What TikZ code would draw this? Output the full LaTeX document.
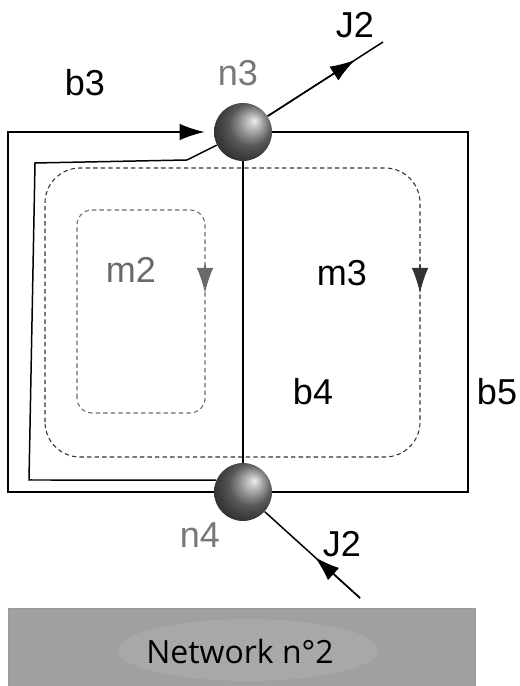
\documentclass[tikz,border=0pt]{standalone}
\usepackage{fontspec}
\setmainfont{Liberation Sans}
\newfontfamily\netfont{Open Sans}
\usetikzlibrary{arrows.meta,calc}
\definecolor{labelGray}{HTML}{787878}
\definecolor{meshGray}{HTML}{6a6a6a}
\definecolor{netGray}{HTML}{a0a0a0}
\definecolor{netLight}{HTML}{a8a8a8}

\begin{document}
\begin{tikzpicture}[
    wire/.style={line width=0.85pt},
    meshline/.style={line width=0.6pt, dash pattern=on 2.5pt off 1.8pt},
    sphere/.style={circle, minimum size=1.16cm, inner sep=0pt, shading=ball, ball color=black!50, shading angle=-90},
    lbl/.style={font=\fontsize{20.5}{24}\selectfont},
    tip/.style={-{Latex[length=5mm,width=3.3mm]}}
  ]
        \useasboundingbox (0,0) rectangle (10.4,13.72);
        % network block
        \fill[netGray] (0.16,0) rectangle (9.50,1.56);
        \fill[netLight] (4.96,0.72) ellipse (2.6 and 0.62);
        \draw[gray!80, line width=0.4pt] (0.16,0) -- (0.16,1.56) -- (9.50,1.56) -- (9.50,0);
        \node[font=\netfont\fontsize{18.2}{22}\selectfont] (net) at (4.80,0.68) {Network n°2};
        % mesh loops
        \draw[meshline, black!80, rounded corners=0.7cm] (0.90,4.58) rectangle (8.40,10.36);
        \draw[meshline, meshGray, rounded corners=0.3cm] (1.54,5.46) rectangle (4.10,9.52);
        \draw[meshline, black!80, tip] (8.40,8.42) -- (8.40,7.86);
        \draw[meshline, meshGray, tip] (4.10,8.42) -- (4.10,7.86);
        \node[lbl, meshGray] (m2) at (2.62,8.32) {m2};
        \node[lbl] (m3) at (6.84,8.26) {m3};
        % nodes
        \node[sphere] (n3) at (4.86,11.08) {};
        \node[sphere] (n4) at (4.86,3.88) {};
        \node[lbl, labelGray] (n3lbl) at (4.76,12.26) {n3};
        \node[lbl, labelGray] (n4lbl) at (4.00,3.02) {n4};
        % branches
        \draw[wire, tip, shorten >=0.18cm] (n4.west) -| (0.16,11.08) -- (n3.west);
        \draw[wire] (n3.east) -- (9.36,11.08) |- (n4.east);
        \draw[wire] (n3) -- (3.74,10.52) -- (0.70,10.46) -- (0.58,4.12) -- (n4.156);
        \draw[wire] (n3) -- (n4);
        \node[lbl] (b3) at (1.70,12.06) {b3};
        \node[lbl] (b4) at (6.26,5.88) {b4};
        \node[lbl] (b5) at (9.94,5.88) {b5};
        % injected currents
        \coordinate (j2out) at (7.66,12.88);
        \coordinate (j2in) at (7.20,1.76);
        \draw[wire] (n3) -- (j2out);
        \draw[wire, tip] (n3) -- ($(n3)!0.8!(j2out)$);
        \draw[wire] (j2in) -- (n4);
        \draw[wire, tip] (j2in) -- ($(j2in)!0.385!(n4)$);
        \node[lbl] (j2a) at (7.10,13.22) {J2};
        \node[lbl] (j2b) at (6.84,2.84) {J2};
      \end{tikzpicture}
\end{document}
